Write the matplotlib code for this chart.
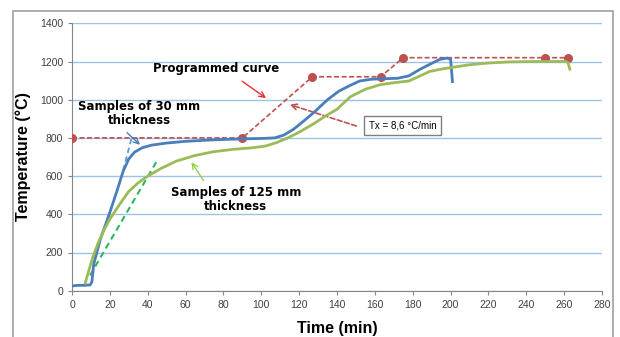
import matplotlib.pyplot as plt
from matplotlib.patches import Rectangle

# programmed furnace curve
prog_t = [0, 90, 127, 163, 175, 250, 262]
prog_T = [800, 800, 1120, 1120, 1220, 1220, 1220]

# samples of 30 mm thickness
thin_t = [0, 3, 6, 9.5, 10.5, 11.5, 15, 20, 24, 27, 30, 33, 37, 42, 50, 60, 75,
          90, 100, 107, 112, 117, 122, 128, 135, 141, 147, 152, 158, 165, 172,
          178, 184, 189, 194, 198, 200, 201]
thin_T = [25, 28, 28, 30, 45, 140, 270, 410, 530, 625, 690, 725, 748, 762, 773,
          782, 790, 795, 797, 800, 815, 845, 885, 935, 1000, 1045, 1075, 1098,
          1107, 1110, 1112, 1125, 1160, 1185, 1210, 1218, 1212, 1095]

# samples of 125 mm thickness
thick_t = [7, 9, 11, 14, 17, 20, 25, 30, 35, 40, 47, 55, 65, 75, 85, 95, 102,
           108, 114, 120, 127, 134, 140, 147, 155, 163, 171, 178, 184, 189, 195,
           200, 210, 220, 231, 245, 261, 262, 263]
thick_T = [40, 110, 175, 255, 320, 375, 450, 520, 565, 600, 640, 678, 708, 728,
           740, 748, 757, 775, 800, 830, 870, 915, 950, 1015, 1055, 1079, 1090,
           1098, 1125, 1148, 1160, 1168, 1183, 1192, 1198, 1200, 1200, 1195, 1160]

# tangent lines (heating rate)
thin_tan_t = [27, 31.5]
thin_tan_T = [630, 800]
thick_tan_t = [9.5, 45.5]
thick_tan_T = [80, 690]

x_ticks = list(range(0, 281, 20))
y_ticks = list(range(0, 1401, 200))

blue = '#4A7EBB'
green = '#9BBB59'
red = '#C0504D'

fig = plt.figure(figsize=(6.2, 3.37), dpi=100)
fig.patches.append(Rectangle((13 / 620, -0.05), 600 / 620, 1 - 11 / 337 + 0.05,
                             transform=fig.transFigure, fill=False,
                             edgecolor='#A0A0A0', lw=1.2))
ax = fig.add_axes([72 / 620, 1 - 290.7 / 337, 530 / 620, 267.4 / 337])

ax.plot(prog_t, prog_T, color=red, ls=(0, (3, 1.5)), lw=1.2, marker='o',
        ms=5.5, mfc=red, mec=red, zorder=3)
ax.plot(thin_t, thin_T, color=blue, lw=2, zorder=4)
ax.plot(thick_t, thick_T, color=green, lw=2, zorder=4)
ax.plot(thin_tan_t, thin_tan_T, color='#5B9BD5', ls=(0, (3, 2)), lw=1.3, zorder=2)
ax.plot(thick_tan_t, thick_tan_T, color='#2EB85C', ls=(0, (3, 2)), lw=1.5, zorder=2)

ax.set_xlim(0, 280)
ax.set_ylim(0, 1400)
ax.set_xticks(x_ticks)
ax.set_yticks(y_ticks)
ax.yaxis.grid(True, color='#9DC3E6', lw=1)
ax.set_axisbelow(True)
for s in ['top', 'right']:
    ax.spines[s].set_visible(False)
for s in ['left', 'bottom']:
    ax.spines[s].set_color('#868686')
ax.tick_params(colors='#868686', length=3, labelcolor='#404040', labelsize=7.5)
for lab in ax.get_xticklabels() + ax.get_yticklabels():
    lab.set_family('Liberation Sans')

ax.set_ylabel('Temperature (°C)', fontsize=11.5, fontweight='bold',
              family='Liberation Sans', labelpad=6)
ax.set_xlabel('Time (min)', fontsize=11.5, fontweight='bold',
              family='Liberation Sans', labelpad=8)

# annotations
ax.text(76, 1162, 'Programmed curve', fontsize=8.5, fontweight='bold',
        ha='center', va='center')
ax.annotate('', xy=(103.7, 1000), xytext=(88.7, 1105),
            arrowprops=dict(arrowstyle='->', color='#E53030', lw=1))
ax.text(35.4, 927, 'Samples of 30 mm\nthickness', fontsize=8.5,
        fontweight='bold', ha='center', va='center', linespacing=1.1)
ax.annotate('', xy=(37, 754), xytext=(28, 837),
            arrowprops=dict(arrowstyle='->', color=blue, lw=1))
ax.text(86.6, 476, 'Samples of 125 mm\nthickness', fontsize=8.5,
        fontweight='bold', ha='center', va='center', linespacing=1.1)
ax.annotate('', xy=(62.3, 685), xytext=(70.3, 565),
            arrowprops=dict(arrowstyle='->', color='#92D050', lw=1))
ax.annotate('', xy=(113.6, 979), xytext=(151.6, 858),
            arrowprops=dict(arrowstyle='->', color=red, lw=1.2,
                            linestyle=(0, (3, 1.5))))
ax.text(174.6, 864, 'Tx = 8,6 °C/min', fontsize=7, family='Liberation Sans',
        ha='center', va='center',
        bbox=dict(boxstyle='square,pad=0.45', fc='white', ec='#7F7F7F', lw=1))

fig.savefig('out.png', dpi=100)
